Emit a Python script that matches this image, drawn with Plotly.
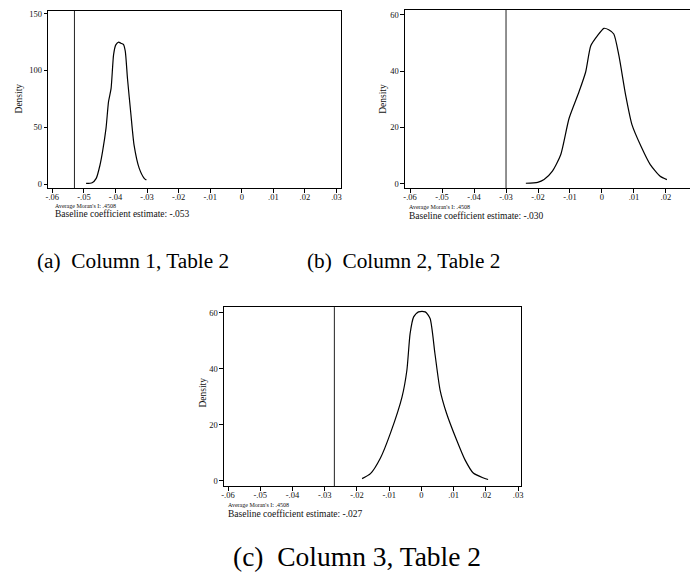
import plotly.graph_objects as go

W, H = 698, 573          # target picture size
OFF = 8                  # default page body margin
FW, FH = W - OFF, H - OFF  # figure size so the page fills exactly the window

# ---------------- data ----------------
# Panel (a): Column 1, Table 2
a_x = [-0.0493, -0.0474, -0.0461, -0.0449, -0.0441, -0.0430, -0.0422, -0.0414, -0.0406,
       -0.0399, -0.0390, -0.0383, -0.0375, -0.0369, -0.0362, -0.0351, -0.0341, -0.0325,
       -0.0309, -0.0302]
a_y = [0.6, 1.2, 5, 16.8, 28.5, 49, 72.6, 84, 114, 122.6, 125, 124, 123, 117, 93, 61, 34,
       14, 5, 3.5]
a_base = -0.053

# Panel (b): Column 2, Table 2
b_x = [-0.0238, -0.0201, -0.0181, -0.0155, -0.0129, -0.0103, -0.0072, -0.0051, -0.0035,
       -0.0014, 0.0006, 0.0021, 0.0037, 0.0053, 0.0074, 0.0094, 0.0122, 0.0151, 0.0182,
       0.0203]
b_y = [0.2, 0.5, 1.5, 4.5, 10.3, 23.2, 32.6, 39.7, 49, 52.6, 55.2, 54.7, 53.2, 45.5, 31.5,
       20.9, 13.3, 6.8, 2.7, 1.5]
b_base = -0.030

# Panel (c): Column 3, Table 2
c_x = [-0.0184, -0.0158, -0.0127, -0.0096, -0.0060, -0.0045, -0.0035, -0.0024, -0.0009,
       0.0012, 0.0027, 0.0042, 0.0058, 0.0078, 0.0109, 0.0135, 0.0161, 0.0191, 0.0207]
c_y = [0.7, 2.5, 8.1, 17, 30, 39.5, 52.6, 58.6, 60.4, 60.4, 58, 45.5, 32.4, 24.1, 14.6,
       7.5, 2.7, 1, 0.4]
c_base = -0.027

x_tickvals = [-0.06, -0.05, -0.04, -0.03, -0.02, -0.01, 0, 0.01, 0.02, 0.03]
x_ticktext = ["-.06", "-.05", "-.04", "-.03", "-.02", "-.01", "0", ".01", ".02", ".03"]
ya_tickvals = [0, 50, 100, 150]
ybc_tickvals = [0, 20, 40, 60]

moran_text = "Average Moran's I: .4508"
base_texts = ["Baseline coefficient estimate: -.053",
              "Baseline coefficient estimate: -.030",
              "Baseline coefficient estimate: -.027"]
captions = ["(a)\u00a0\u00a0Column 1, Table 2",
            "(b)\u00a0\u00a0Column 2, Table 2",
            "(c)\u00a0\u00a0Column 3, Table 2"]

# ---------------- layout helpers (window pixels -> paper) ----------------
def px(x):
    return (x - OFF) / FW

def py(y):
    return 1 - (y - OFF) / FH

SERIF = "Liberation Serif"

fig = go.Figure()

panels = [
    (a_x, a_y, a_base, (45.5, 340), (9, 187), [-0.0613, 0.0313], [-3.5, 152.4], ya_tickvals),
    (b_x, b_y, b_base, (405, 698), (7.5, 187), [-0.06155, 0.0294], [-1.5, 61.7], ybc_tickvals),
    (c_x, c_y, c_base, (222.7, 521.7), (306.7, 486.7), [-0.0612, 0.0309], [-2.0, 62.1], ybc_tickvals),
]

for i, (xs, ys, base, xd, yd, xr, yr, ytv) in enumerate(panels, start=1):
    sfx = "" if i == 1 else str(i)
    fig.add_trace(go.Scatter(x=xs, y=ys, mode="lines",
                             line=dict(color="black", width=1.2, shape="spline", smoothing=0.6),
                             xaxis="x" + sfx, yaxis="y" + sfx, showlegend=False, hoverinfo="skip"))
    fig.add_shape(type="line", xref="x" + sfx, yref="y" + sfx + " domain", x0=base, x1=base, y0=0, y1=1,
                  line=dict(color="#222", width=1))
    axis_common = dict(showgrid=False, zeroline=False, showline=True, linecolor="black", linewidth=1.3,
                       ticks="outside", ticklen=3.5, tickwidth=1, tickcolor="black",
                       ticklabeloverflow="allow",
                       tickfont=dict(family=SERIF, size=8.5, color="#111"))
    fig.update_layout(**{
        "xaxis" + sfx: dict(domain=[max(0, px(xd[0])), min(1, px(xd[1]))], range=xr,
                            tickvals=x_tickvals, ticktext=x_ticktext, ticklabelstandoff=-3,
                            anchor="y" + sfx, mirror=True, **axis_common),
        "yaxis" + sfx: dict(domain=[max(0, py(yd[1])), min(1, py(yd[0]))], range=yr, tickvals=ytv,
                            ticktext=[str(v) for v in ytv], anchor="x" + sfx,
                            mirror=(i != 2), **axis_common),
    })

anns = []
for (x, y) in [(16, 97), (382, 97), (201, 393)]:
    anns.append(dict(x=px(x), y=py(y), xref="paper", yref="paper", text="Density", textangle=-90,
                     showarrow=False, font=dict(family=SERIF, size=9.5, color="#111"),
                     xanchor="center", yanchor="middle"))
for (x, y1, y2), bt in zip([(50, 205, 213.5), (407, 206, 215.5), (225, 506, 515)], base_texts):
    anns.append(dict(x=px(x), y=py(y1), xref="paper", yref="paper", text=moran_text, showarrow=False,
                     font=dict(family=SERIF, size=6, color="#111"), xanchor="left", yanchor="middle"))
    anns.append(dict(x=px(x), y=py(y2), xref="paper", yref="paper", text=bt, showarrow=False,
                     font=dict(family=SERIF, size=9.5, color="#111"), xanchor="left", yanchor="middle"))
for (x, y, s), cap in zip([(131, 260, 21.3), (403.5, 260, 21.3), (356.5, 557, 27.5)], captions):
    anns.append(dict(x=px(x), y=py(y), xref="paper", yref="paper", text=cap, showarrow=False,
                     font=dict(family=SERIF, size=s, color="black"), xanchor="center", yanchor="middle"))

fig.update_layout(width=FW, height=FH, margin=dict(l=0, r=0, t=0, b=0),
                  paper_bgcolor="white", plot_bgcolor="white", annotations=anns)

fig.write_html("out.html")
